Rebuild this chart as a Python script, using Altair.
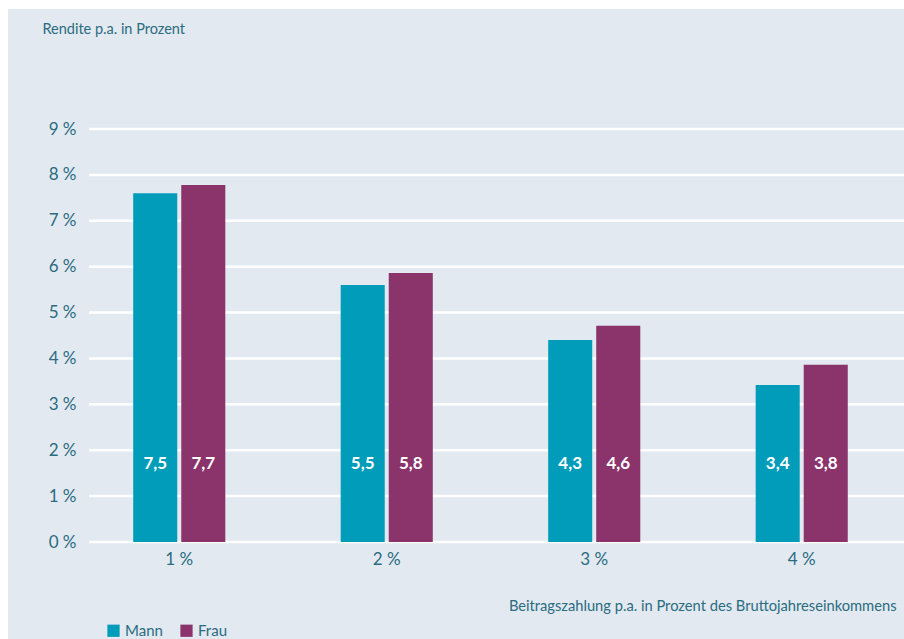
import altair as alt
import pandas as pd

categories = ["1 %", "2 %", "3 %", "4 %"]
series = ["Mann", "Frau"]
mann_heights = [7.6, 5.6, 4.4, 3.42]
frau_heights = [7.78, 5.86, 4.71, 3.86]
mann_labels = ["7,5", "5,5", "4,3", "3,4"]
frau_labels = ["7,7", "5,8", "4,6", "3,8"]
y_ticks = [0, 1, 2, 3, 4, 5, 6, 7, 8, 9]

rows = []
for i, c in enumerate(categories):
    rows.append({"cat": c, "series": "Mann", "value": mann_heights[i], "label": mann_labels[i]})
    rows.append({"cat": c, "series": "Frau", "value": frau_heights[i], "label": frau_labels[i]})
df = pd.DataFrame(rows)
grid_df = pd.DataFrame({"t": y_ticks})

FONT = "Lato"
TXT = "#2a6c80"
BG = "#e2e9f0"
W, H = 815, 413

bg = alt.Chart(pd.DataFrame({"a": [0]})).mark_rect(color=BG).encode(
    x=alt.value(-81), x2=alt.value(W), y=alt.value(-120), y2=alt.value(510)
)

yscale = alt.Scale(domain=[0, 9], nice=False)

grid = alt.Chart(grid_df).mark_rule(color="white", strokeWidth=2.5).encode(
    y=alt.Y("t:Q", scale=yscale,
            axis=alt.Axis(values=y_ticks, labelExpr="datum.value + ' %'", grid=False,
                          ticks=False, domain=False, labelPadding=13, zindex=1,
                          labelFontSize=17, labelColor=TXT, labelFont=FONT,
                          title="Rendite p.a. in Prozent", titleAngle=0,
                          titleFont=FONT, titleFontSize=14.5, titleFontWeight="normal",
                          titleColor=TXT, titleAlign="left", titleX=-47, titleY=-100,
                          titleBaseline="middle")),
    x=alt.value(0), x2=alt.value(W),
)

xscale = alt.Scale(paddingInner=0.13, paddingOuter=0.029, align=0)
xoff_scale = alt.Scale(domain=series, paddingInner=0.0833, paddingOuter=0.92)
color_scale = alt.Scale(domain=series, range=["#009cba", "#8b336b"])

bars = alt.Chart(df).mark_bar().encode(
    x=alt.X("cat:N", scale=xscale, sort=categories,
            axis=alt.Axis(title="Beitragszahlung p.a. in Prozent des Bruttojahreseinkommens",
                          labelAngle=0, ticks=False, domain=False, labelPadding=9, zindex=1,
                          labelFontSize=17, labelColor=TXT, labelFont=FONT,
                          titleFont=FONT, titleFontSize=14.7, titleFontWeight="normal",
                          titleColor=TXT, titleAnchor="end", titleAlign="right",
                          titleX=807, titleY=64, titleBaseline="middle")),
    xOffset=alt.XOffset("series:N", scale=xoff_scale, sort=series),
    y=alt.Y("value:Q", scale=yscale, title="Rendite p.a. in Prozent"),
    color=alt.Color("series:N", scale=color_scale, sort=series,
                    legend=alt.Legend(title=None, orient="none", direction="horizontal",
                                      legendX=17, legendY=494, symbolType="square",
                                      symbolSize=150, symbolStrokeWidth=0,
                                      labelFont=FONT, labelFontSize=15, labelColor=TXT,
                                      columnPadding=16, labelOffset=4)),
)

labels = alt.Chart(df).mark_text(color="white", fontWeight="bold", fontSize=17,
                                 font=FONT, baseline="middle").encode(
    x=alt.X("cat:N", scale=xscale, sort=categories),
    xOffset=alt.XOffset("series:N", scale=xoff_scale, sort=series),
    y=alt.value(335),
    text="label:N",
)

chart = alt.layer(bg, grid, bars, labels).resolve_scale(y="shared").properties(
    width=W, height=H,
    autosize=alt.AutoSizeParams(type="none"),
    padding={"left": 89, "top": 129, "right": 0, "bottom": 97},
    background="white",
).configure_view(stroke=None, fill=None)

chart.save("out.html", embed_options={"renderer": "svg", "actions": False})
